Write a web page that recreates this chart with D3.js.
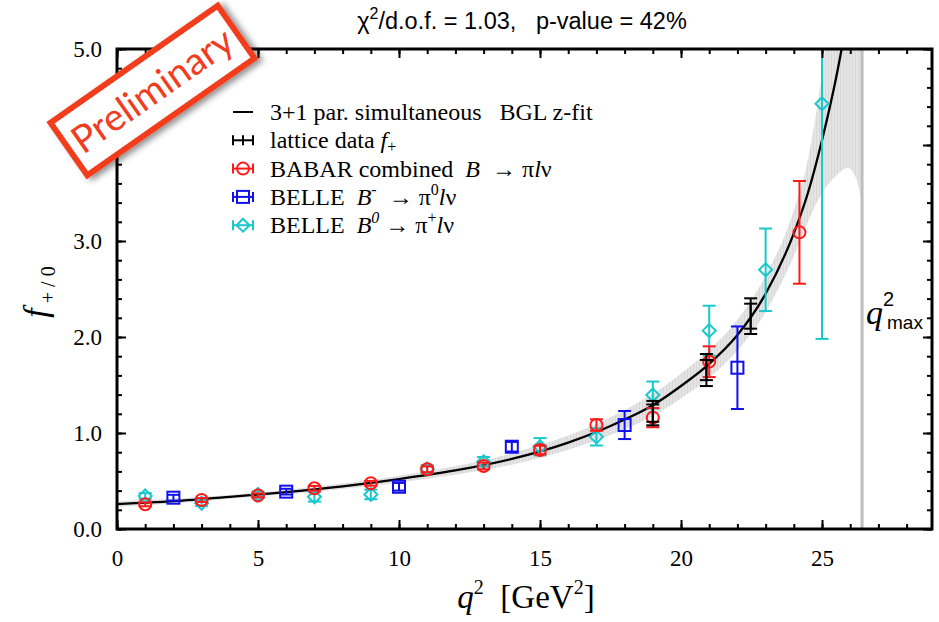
<!DOCTYPE html>
<html>
<head>
<meta charset="utf-8">
<script src="https://cdn.jsdelivr.net/npm/d3@7"></script>
<style>
  body { margin: 0; background: #fff; }
  svg { display: block; }
</style>
</head>
<body>
<div id="chart"></div>
<script>
// fit curve
const fitQ2 = [0, 2, 4, 6, 8, 10, 12, 14, 16, 17, 18, 19, 20, 21, 22, 23, 24, 24.5, 25, 25.5, 26];
const fitF = [0.26, 0.29, 0.335, 0.385, 0.445, 0.52, 0.61, 0.73, 0.9, 1.01, 1.14, 1.29, 1.49, 1.72, 2.02, 2.45, 3.08, 3.5, 4.05, 4.7, 5.5];

// error band
const bandQ2 = [0, 2, 4, 6, 8, 10, 12, 14, 16, 17, 18, 19, 20, 21, 22, 23, 24, 24.5, 25, 25.5, 25.9, 26.2, 26.42];
const bandLo = [0.23, 0.265, 0.315, 0.363, 0.417, 0.485, 0.565, 0.67, 0.825, 0.925, 1.04, 1.175, 1.36, 1.575, 1.86, 2.26, 2.84, 3.2, 3.5, 3.68, 3.76, 3.66, 3.4];
const bandHi = [0.29, 0.315, 0.355, 0.407, 0.473, 0.555, 0.655, 0.79, 0.975, 1.095, 1.24, 1.405, 1.62, 1.865, 2.18, 2.64, 3.32, 3.85, 4.75, 6.0, 7.5, 8.5, 9.5];

// lattice data f+ (two error sizes)
const latQ2 = [19, 20.9, 22.47];
const latF = [1.207, 1.656, 2.217];
const latErrIn = [0.09, 0.105, 0.13];
const latErrOut = [0.127, 0.167, 0.186];

// BABAR combined
const babarQ2 = [1, 3, 5, 7, 9, 11, 13, 15, 17, 19, 21, 24.2];
const babarF = [0.257, 0.302, 0.35, 0.424, 0.476, 0.622, 0.656, 0.823, 1.083, 1.16, 1.743, 3.09];
const babarErr = [0.02, 0.02, 0.02, 0.025, 0.025, 0.03, 0.035, 0.045, 0.06, 0.1, 0.16, 0.535];

// BELLE B- -> pi0
const belleMQ2 = [2, 6, 10, 14, 18, 22];
const belleMF = [0.326, 0.389, 0.44, 0.857, 1.083, 1.68];
const belleMErr = [0.03, 0.03, 0.04, 0.05, 0.146, 0.43];

// BELLE B0 -> pi+
const belle0Q2 = [1, 3, 5, 7, 9, 11, 13, 15, 17, 19, 21, 23, 25];
const belle0F = [0.344, 0.268, 0.36, 0.336, 0.36, 0.625, 0.7, 0.857, 0.96, 1.396, 2.066, 2.7, 4.43];
const belle0Err = [0.03, 0.03, 0.03, 0.05, 0.05, 0.04, 0.05, 0.09, 0.09, 0.14, 0.26, 0.43, 2.45];

const q2max = 26.42;
const xMajor = [0, 5, 10, 15, 20, 25];
const yMajor = [0, 1, 2, 3, 4, 5];

const width = 939, height = 622;
const plot = { left: 117, right: 932, top: 49, bottom: 529 };
const RED = "#ff1a1a", BLUE = "#1010ee", CYAN = "#19c8cc";
const serif = "'Liberation Serif', 'Times New Roman', serif";
const sans = "'Liberation Sans', Arial, sans-serif";

const svg = d3.select("#chart").append("svg")
  .attr("width", width).attr("height", height);

const defs = svg.append("defs");
defs.append("clipPath").attr("id", "clip")
  .append("rect")
  .attr("x", plot.left).attr("y", plot.top)
  .attr("width", plot.right - plot.left).attr("height", plot.bottom - plot.top);

const pat = defs.append("pattern").attr("id", "hatch")
  .attr("width", 3).attr("height", 10).attr("patternUnits", "userSpaceOnUse");
pat.append("rect").attr("width", 3).attr("height", 10).attr("fill", "#e4e4e4");
pat.append("line").attr("x1", 0.5).attr("x2", 0.5).attr("y1", 0).attr("y2", 10)
  .attr("stroke", "#d8d8d8").attr("stroke-width", 1);

const shadow = defs.append("filter").attr("id", "shadow")
  .attr("x", "-20%").attr("y", "-30%").attr("width", "140%").attr("height", "160%");
shadow.append("feDropShadow").attr("dx", 3).attr("dy", 4)
  .attr("stdDeviation", 3).attr("flood-color", "#000").attr("flood-opacity", 0.45);

const x = d3.scaleLinear().domain([0, 28.9]).range([plot.left, plot.right]);
const y = d3.scaleLinear().domain([0, 5]).range([plot.bottom, plot.top]);

const g = svg.append("g").attr("clip-path", "url(#clip)");

// band
const band = bandQ2.map((q, i) => ({ q, lo: bandLo[i], hi: bandHi[i] }));
g.append("path")
  .datum(band)
  .attr("fill", "url(#hatch)")
  .attr("d", d3.area().x((d) => x(d.q)).y0((d) => y(d.lo)).y1((d) => y(d.hi))
    .curve(d3.curveMonotoneX));

// q2max line
g.append("line")
  .attr("x1", x(q2max)).attr("x2", x(q2max))
  .attr("y1", plot.bottom).attr("y2", plot.top)
  .attr("stroke", "#bdbdbd").attr("stroke-width", 3);

// fit
const fit = fitQ2.map((q, i) => ({ q, f: fitF[i] }));
g.append("path")
  .datum(fit)
  .attr("fill", "none").attr("stroke", "#000").attr("stroke-width", 2.3)
  .attr("d", d3.line().x((d) => x(d.q)).y((d) => y(d.f)).curve(d3.curveMonotoneX));

function errorBars(q2, f, err, color, cap = 6.5) {
  const data = q2.map((q, i) => ({ q, f: f[i], e: err[i] }));
  const eg = g.append("g").attr("stroke", color).attr("stroke-width", 2).attr("fill", "none");
  eg.selectAll("line.v").data(data).join("line").attr("class", "v")
    .attr("x1", (d) => x(d.q)).attr("x2", (d) => x(d.q))
    .attr("y1", (d) => y(d.f - d.e)).attr("y2", (d) => y(d.f + d.e));
  eg.selectAll("line.t").data(data).join("line").attr("class", "t")
    .attr("x1", (d) => x(d.q) - cap).attr("x2", (d) => x(d.q) + cap)
    .attr("y1", (d) => y(d.f + d.e)).attr("y2", (d) => y(d.f + d.e));
  eg.selectAll("line.b").data(data).join("line").attr("class", "b")
    .attr("x1", (d) => x(d.q) - cap).attr("x2", (d) => x(d.q) + cap)
    .attr("y1", (d) => y(d.f - d.e)).attr("y2", (d) => y(d.f - d.e));
  return data;
}

const symbols = {
  circle: (sel) => sel.append("circle").attr("r", 6),
  square: (sel) => sel.append("rect").attr("x", -6).attr("y", -6).attr("width", 12).attr("height", 12),
  diamond: (sel) => sel.append("path").attr("d", "M0,-6.5L6.5,0L0,6.5L-6.5,0Z"),
};

function markers(data, color, kind) {
  g.append("g").selectAll("g").data(data).join("g")
    .attr("transform", (d) => `translate(${x(d.q)},${y(d.f)})`)
    .attr("fill", "none").attr("stroke", color).attr("stroke-width", 2)
    .each(function () { symbols[kind](d3.select(this)); });
}

markers(errorBars(belle0Q2, belle0F, belle0Err, CYAN), CYAN, "diamond");
markers(errorBars(belleMQ2, belleMF, belleMErr, BLUE), BLUE, "square");
markers(errorBars(babarQ2, babarF, babarErr, RED), RED, "circle");
errorBars(latQ2, latF, latErrOut, "#000");
errorBars(latQ2, latF, latErrIn, "#000");

// axes
const axes = svg.append("g");
function styleAxis(a) {
  a.select(".domain").remove();
  a.selectAll(".tick line").attr("stroke", "#000").attr("stroke-width", 2);
  a.selectAll("text").attr("font-family", serif).attr("font-size", 23).attr("fill", "#000");
}
const xMinor = d3.range(0, 29, 1);
const yMinor = d3.range(0, 5.01, 0.2);

axes.append("g").attr("transform", `translate(0,${plot.bottom})`)
  .call(d3.axisBottom(x).tickValues(xMinor).tickSize(-5).tickFormat("")).call(styleAxis);
axes.append("g").attr("transform", `translate(0,${plot.bottom})`)
  .call(d3.axisBottom(x).tickValues(xMajor).tickSize(-9).tickPadding(21).tickFormat(d3.format("d")))
  .call(styleAxis);
axes.append("g").attr("transform", `translate(0,${plot.top})`)
  .call(d3.axisTop(x).tickValues(xMinor).tickSize(-5).tickFormat("")).call(styleAxis);
axes.append("g").attr("transform", `translate(0,${plot.top})`)
  .call(d3.axisTop(x).tickValues(xMajor).tickSize(-9).tickFormat("")).call(styleAxis);

axes.append("g").attr("transform", `translate(${plot.left},0)`)
  .call(d3.axisLeft(y).tickValues(yMinor).tickSize(-5).tickFormat("")).call(styleAxis);
axes.append("g").attr("transform", `translate(${plot.left},0)`)
  .call(d3.axisLeft(y).tickValues(yMajor).tickSize(-9).tickPadding(15).tickFormat(d3.format(".1f")))
  .call(styleAxis);
axes.append("g").attr("transform", `translate(${plot.right},0)`)
  .call(d3.axisRight(y).tickValues(yMinor).tickSize(-5).tickFormat("")).call(styleAxis);
axes.append("g").attr("transform", `translate(${plot.right},0)`)
  .call(d3.axisRight(y).tickValues(yMajor).tickSize(-9).tickFormat("")).call(styleAxis);

svg.append("rect")
  .attr("x", plot.left).attr("y", plot.top)
  .attr("width", plot.right - plot.left).attr("height", plot.bottom - plot.top)
  .attr("fill", "none").attr("stroke", "#000").attr("stroke-width", 3);

// title
const title = svg.append("text")
  .attr("x", 522).attr("y", 29).attr("text-anchor", "middle")
  .attr("font-family", sans).attr("font-size", 23.5).style("white-space", "pre");
title.append("tspan").text("χ");
title.append("tspan").attr("font-size", 16).attr("dy", -10).text("2");
title.append("tspan").attr("dy", 10).text("/d.o.f. = 1.03,   p-value = 42%");

// axis titles
const xt = svg.append("text")
  .attr("x", 526).attr("y", 608).attr("text-anchor", "middle")
  .attr("font-family", serif).attr("font-size", 33).style("white-space", "pre");
xt.append("tspan").attr("font-style", "italic").text("q");
xt.append("tspan").attr("font-size", 20).attr("dy", -14).text("2");
xt.append("tspan").attr("dy", 14).text("  [GeV");
xt.append("tspan").attr("font-size", 20).attr("dy", -14).text("2");
xt.append("tspan").attr("dy", 14).text("]");

const yt = svg.append("text")
  .attr("transform", "translate(47,292) rotate(-90)").attr("text-anchor", "middle")
  .attr("font-family", serif).attr("font-size", 34);
yt.append("tspan").attr("font-style", "italic").text("f");
yt.append("tspan").attr("font-size", 20).attr("dy", 8).text(" + / 0");

// q2max label
svg.append("text").attr("x", 866).attr("y", 324)
  .attr("font-family", serif).attr("font-style", "italic").attr("font-size", 34).text("q");
svg.append("text").attr("x", 883).attr("y", 306)
  .attr("font-family", sans).attr("font-size", 20).text("2");
svg.append("text").attr("x", 887).attr("y", 329)
  .attr("font-family", sans).attr("font-size", 19).text("max");

// legend
const legX = 233, legW = 20, legTx = 270, legY0 = 112, legDy = 28.3;
const leg = svg.append("g");
function legText(row, parts) {
  const t = leg.append("text").attr("x", legTx).attr("y", legY0 + row * legDy + 8)
    .attr("font-family", serif).attr("font-size", 24).style("white-space", "pre");
  parts.forEach(([s, o = {}]) => {
    const sp = t.append("tspan").text(s);
    if (o.i) sp.attr("font-style", "italic");
    if (o.up) sp.attr("font-size", 16).attr("dy", -10);
    if (o.down) sp.attr("font-size", 16).attr("dy", 4);
    if (o.back) sp.attr("dy", o.back);
  });
}
function legIcon(row, color, kind, caps = true) {
  const cy = legY0 + row * legDy;
  const ig = leg.append("g").attr("stroke", color).attr("stroke-width", 2).attr("fill", "none");
  ig.append("line").attr("x1", legX).attr("x2", legX + legW).attr("y1", cy).attr("y2", cy);
  if (caps) {
    [legX, legX + legW].forEach((cx) =>
      ig.append("line").attr("x1", cx).attr("x2", cx).attr("y1", cy - 5).attr("y2", cy + 5));
  }
  const s = ig.append("g").attr("transform", `translate(${legX + legW / 2},${cy})`);
  if (kind === "plus") s.append("line").attr("y1", -5).attr("y2", 5);
  else if (kind) symbols[kind](s);
}
legIcon(0, "#000", null, false);
legIcon(1, "#000", "plus");
legIcon(2, RED, "circle");
legIcon(3, BLUE, "square");
legIcon(4, CYAN, "diamond");
legText(0, [["3+1 par. simultaneous   BGL z-fit"]]);
legText(1, [["lattice data "], ["f", { i: true }], ["+", { down: true }]]);
legText(2, [["BABAR combined  "], ["B", { i: true }], ["  → π"], ["l", { i: true }], ["ν"]]);
legText(3, [["BELLE  "], ["B", { i: true }], ["-", { up: true }], ["  → π", { back: 10 }], ["0", { up: true }], ["l", { i: true, back: 10 }], ["ν"]]);
legText(4, [["BELLE  "], ["B", { i: true }], ["0", { up: true, i: true }], [" → π", { back: 10 }], ["+", { up: true }], ["l", { i: true, back: 10 }], ["ν"]]);

// preliminary stamp
const stamp = svg.append("g").attr("transform", "translate(152.5,90.5) rotate(-35)");
stamp.append("rect")
  .attr("x", -102).attr("y", -32).attr("width", 204).attr("height", 64)
  .attr("fill", "#fff").attr("stroke", "#f23c1e").attr("stroke-width", 6)
  .attr("filter", "url(#shadow)");
stamp.append("text")
  .attr("x", 0).attr("y", 13).attr("text-anchor", "middle")
  .attr("font-family", "Lato, 'Open Sans', sans-serif").attr("font-size", 38)
  .attr("fill", "#f23c1e").text("Preliminary");
</script>
</body>
</html>
